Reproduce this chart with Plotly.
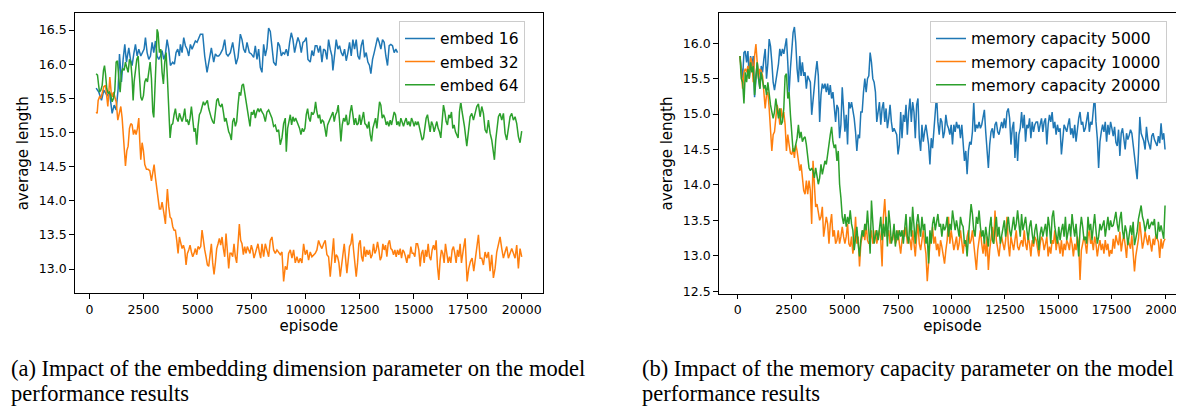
import plotly.graph_objects as go
import numpy as np

# ---------------- data: panel (a) embedding dimension ----------------
# (episode, average length) pairs
embed16 = [(308,15.65),(431,15.59),(555,15.47),(663,15.62),(817,15.54),(924,15.59),(1048,15.28),(1140,15.40),
 (1233,15.33),(1325,15.64),(1387,16.15),(1479,15.74),(1556,16.07),(1633,16.29),(1710,16.03),(1818,16.24),
 (1895,16.07),(1972,15.98),(2049,16.15),(2126,16.29),(2203,16.12),(2280,16.22),(2373,16.12),(2434,16.17),
 (2527,16.22),(2589,16.39),(2666,16.17),(2743,16.07),(2820,16.12),(2897,16.32),(2974,16.17),(3051,16.34),
 (3128,16.12),(3205,16.07),(3282,16.12),(3359,16.20),(3436,16.07),(3513,16.15),(3590,16.36),(3667,16.22),
 (3744,15.98),(3852,16.03),(3929,16.00),(4006,16.17),(4083,16.22),(4160,16.12),(4206,16.29),(4284,16.17),
 (4360,16.39),(4437,16.27),(4515,16.22),(4592,16.12),(4669,16.29),(4746,16.22),(4823,16.27),(4900,16.34),
 (4977,16.32),(5054,16.39),(5131,16.44),(5239,16.44),(5331,16.12),(5439,15.88),(5547,16.07),(5639,16.24),
 (5747,16.03),(5824,16.15),(5901,16.12),(5978,16.12),(6055,16.15),(6163,16.22),(6256,16.36),(6333,16.15),
 (6410,16.12),(6518,16.17),(6626,16.32),(6703,16.17),(6780,16.00),(6872,16.10),(6980,16.44),(7057,16.36),
 (7134,16.22),(7211,16.17),(7288,16.32),(7396,16.17),(7488,16.15),(7596,16.10),(7673,16.27),(7750,16.07),
 (7827,16.22),(7904,15.95),(7981,15.88),(8058,16.29),(8135,16.12),(8212,16.24),(8289,16.53),(8366,16.48),
 (8443,16.27),(8520,16.03),(8628,15.98),(8721,16.32),(8798,16.27),(8875,16.12),(8952,16.17),(9029,16.15),
 (9106,16.22),(9183,16.12),(9260,16.32),(9337,16.46),(9414,16.36),(9491,16.17),(9568,16.29),(9645,16.39),
 (9722,16.32),(9799,16.17),(9876,16.32),(9953,16.34),(10030,16.39),(10108,16.07),(10215,16.03),(10292,16.20),
 (10369,16.12),(10446,16.27),(10523,16.27),(10600,16.17),(10677,16.27),(10755,16.03),(10832,16.22),(10909,16.20),
 (10986,16.07),(11063,16.36),(11140,16.22),(11217,16.12),(11263,15.91),(11340,16.17),(11417,16.36),(11494,16.22),
 (11571,16.27),(11648,16.17),(11725,16.12),(11802,16.22),(11880,16.05),(11957,16.17),(12034,16.32),(12111,16.12),
 (12188,16.36),(12265,16.22),(12342,16.36),(12419,16.12),(12496,16.07),(12573,16.27),(12650,16.36),(12727,16.10),
 (12804,16.17),(12881,16.03),(12958,15.98),(13020,15.86),(13097,16.07),(13174,16.17),(13251,16.27),(13328,16.39),
 (13405,16.32),(13482,16.22),(13559,16.36),(13636,16.32),(13713,16.12),(13790,15.98),(13867,16.27),(13944,16.29),
 (14021,16.27),(14098,16.17),(14175,16.22),(14253,16.17)]

embed32 = [(308,15.30),(354,15.28),(401,15.47),(462,15.52),(524,15.50),(586,15.59),(663,15.67),(740,15.69),
 (801,15.54),(848,15.38),(894,15.59),(941,15.81),(1002,15.59),(1048,15.52),(1109,15.59),(1171,15.50),
 (1233,15.45),(1310,15.18),(1387,15.30),(1448,15.38),(1510,15.21),(1572,14.92),(1618,14.63),(1664,14.51),
 (1726,14.73),(1787,14.80),(1849,15.06),(1911,15.13),(1972,15.11),(2034,14.97),(2096,15.04),(2157,14.97),
 (2219,15.06),(2280,15.21),(2327,14.87),(2373,14.60),(2434,14.85),(2496,14.73),(2558,14.53),(2635,14.46),
 (2712,14.46),(2789,14.44),(2866,14.29),(2928,14.39),(2989,14.53),(3051,14.34),(3112,14.17),(3174,14.03),
 (3236,13.88),(3297,13.88),(3359,13.98),(3436,13.83),(3513,13.66),(3559,13.95),(3605,14.17),(3667,13.91),
 (3729,13.76),(3790,13.74),(3852,13.62),(3914,13.57),(3975,13.57),(4037,13.42),(4099,13.23),(4160,13.47),
 (4222,13.40),(4284,13.30),(4345,13.35),(4407,13.28),(4468,13.06),(4530,13.23),(4592,13.28),(4653,13.35),
 (4715,13.25),(4776,13.18),(4838,13.23),(4900,13.30),(4961,13.21),(5023,13.33),(5085,13.30),(5146,13.33),
 (5208,13.57),(5270,13.37),(5331,13.28),(5393,13.18),(5455,13.06),(5516,13.04),(5578,13.23),(5639,13.37),
 (5701,13.09),(5763,12.92),(5824,13.09),(5886,13.30),(5948,13.37),(6009,13.45),(6071,13.35),(6133,13.47),
 (6194,13.30),(6256,13.18),(6317,13.52),(6379,13.28),(6441,13.01),(6502,13.23),(6564,13.23),(6626,13.18),
 (6687,13.37),(6749,13.18),(6810,13.09),(6872,13.37),(6934,13.66),(6995,13.42),(7057,13.37),(7119,13.21),
 (7180,13.33),(7242,13.23),(7303,13.33),(7365,13.28),(7427,13.23),(7488,13.35),(7550,13.28),(7612,13.16),
 (7673,13.23),(7735,13.33),(7796,13.37),(7858,13.25),(7920,13.16),(7981,13.37),
 (8058,13.18),(8135,13.37),(8212,13.28),(8289,13.18),(8366,13.42),(8443,13.47),(8520,13.28),(8597,13.23),
 (8674,13.28),(8751,13.25),(8828,13.21),(8906,13.25),(8983,12.82),(9060,13.04),(9137,12.99),(9214,13.23),
 (9291,13.28),(9368,13.16),(9445,13.28),(9522,13.09),(9599,13.18),(9676,13.09),(9753,13.16),(9830,13.09),
 (9907,13.37),(9984,13.21),(10061,13.28),(10138,13.13),(10215,13.25),(10292,13.18),(10369,13.21),(10446,13.23),
 (10523,13.28),(10600,13.42),(10677,13.35),(10755,13.30),(10832,13.37),(10909,13.42),(10986,13.21),(11063,13.18),
 (11140,12.89),(11217,13.18),(11294,13.45),(11356,13.09),(11417,13.21),(11479,13.18),(11541,13.09),(11602,12.89),
 (11664,13.09),(11725,13.21),(11787,13.37),(11849,13.18),(11910,12.94),(11972,13.13),(12034,13.33),(12096,13.37),
 (12157,13.52),(12219,13.28),(12280,13.04),(12342,12.89),(12404,13.09),(12465,13.37),(12527,13.42),(12589,13.18),
 (12650,13.11),(12712,13.33),(12773,13.18),(12835,13.28),(12897,13.21),(12958,13.28),(13020,13.16),(13082,13.21),
 (13143,13.37),(13205,13.23),(13267,13.28),(13328,13.40),(13390,13.28),(13452,13.13),(13513,13.18),(13575,13.37),
 (13636,13.28),(13698,13.35),(13760,13.18),(13821,13.37),(13883,13.42),(13945,13.30),(14006,13.28),(14068,13.21),
 (14130,13.28),(14191,13.18),(14253,13.28),(14314,13.21),(14376,13.30),(14438,13.16),(14499,13.28),(14561,13.25),
 (14623,13.18),(14684,13.09),(14746,13.21),(14808,13.16),(14869,13.33),(14931,13.23),(14993,13.23),(15054,13.18),
 (15116,13.37),(15178,13.37),(15239,13.28),(15301,13.04),(15362,13.23),(15424,13.28),(15486,13.09),(15547,13.28),
 (15609,13.18),(15671,13.37),(15732,13.18),(15794,13.13),(15855,13.28),(15917,13.35),(15979,13.28),(16040,13.42),
 (16102,13.04),(16164,12.84),(16225,13.13),(16287,13.28),(16349,13.23),(16410,13.09),(16472,13.37),(16534,13.23),
 (16595,13.09),(16657,13.18),(16719,13.09),(16780,13.28),(16842,13.33),(16903,13.23),(16965,13.09),(17027,13.28),
 (17088,13.18),(17150,13.37),(17212,13.09),
 (17304,13.30),(17381,13.45),(17473,12.82),(17550,13.01),(17627,13.11),(17704,13.16),(17781,12.97),(17858,13.16),
 (17935,13.35),(17997,13.50),(18074,13.16),(18151,13.16),(18228,13.06),(18305,13.25),(18382,13.16),(18459,13.25),
 (18536,12.97),(18613,13.21),(18690,12.87),(18768,13.01),(18845,13.25),(18922,13.35),(18999,13.47),(19076,13.30),
 (19153,13.16),(19230,13.25),(19307,13.33),(19384,13.16),(19461,13.25),(19538,13.30),(19615,13.23),(19692,13.16),
 (19769,13.35),(19846,13.01),(19923,13.30),(20000,13.18)]

embed64 = [(308,15.86),(370,15.84),(416,15.71),(462,15.59),(524,15.62),(586,15.69),(647,15.91),(694,15.98),
 (740,15.86),(801,15.64),(863,15.57),(924,15.59),(986,15.54),(1048,15.45),(1109,15.50),(1171,15.62),
 (1233,16.03),(1294,16.05),(1356,15.79),(1418,15.59),(1479,15.88),(1541,15.93),(1602,15.91),(1664,16.03),
 (1726,15.95),(1787,15.88),(1849,16.07),(1911,16.03),(1972,15.79),(2019,15.47),(2065,15.74),(2126,15.88),
 (2188,16.07),(2250,16.12),(2311,15.74),(2373,15.52),(2434,15.47),(2496,15.54),(2558,15.74),(2619,15.79),
 (2681,15.74),(2743,15.88),(2805,16.03),(2866,15.79),(2928,15.30),(2974,15.22),(3020,15.50),(3082,16.07),
 (3128,16.51),(3174,16.46),(3236,16.17),(3297,16.22),(3359,15.88),(3420,15.71),(3482,16.03),(3544,16.17),
 (3605,15.79),(3667,15.21),(3729,14.92),(3790,15.11),(3852,15.13),(3914,15.26),(3975,15.35),(4037,15.21),
 (4099,15.16),(4160,15.28),(4222,15.21),(4284,15.16),(4345,15.23),(4407,15.35),(4468,15.16),(4530,15.18),
 (4592,15.11),(4653,15.21),(4715,15.38),(4776,15.13),(4838,15.01),(4900,15.06),(4961,14.82),(5023,15.09),
 (5085,15.26),(5146,15.30),(5208,15.40),(5270,15.45),(5331,15.40),(5393,15.45),(5455,15.47),(5516,15.35),
 (5578,15.26),(5639,15.21),(5701,15.16),(5763,15.13),(5824,15.30),(5886,15.47),(5948,15.50),(6009,15.40),
 (6071,15.38),(6133,15.42),(6194,15.30),(6256,15.16),(6317,15.21),(6379,15.09),(6441,15.01),(6502,14.97),
 (6564,14.89),(6626,15.16),(6687,15.21),(6749,15.09),(6810,15.16),(6872,15.40),(6934,15.59),(6995,15.54),
 (7057,15.69),(7119,15.71),(7180,15.59),(7242,15.45),(7303,15.30),(7365,15.16),(7427,15.09),(7488,15.30),
 (7550,15.26),(7612,15.33),(7673,15.21),(7735,15.30),(7796,15.35),(7858,15.30),(7920,15.35),(7981,15.30),
 (8058,15.26),(8135,15.16),(8212,15.30),(8289,15.33),(8366,15.26),(8443,15.21),(8520,15.09),(8597,15.11),
 (8674,15.01),(8751,15.04),(8828,14.82),(8906,14.92),(8983,15.13),(9060,15.21),(9106,14.72),(9168,15.06),
 (9229,15.16),(9291,15.26),(9352,15.11),(9414,15.23),(9476,15.16),(9537,15.21),(9599,15.16),(9661,15.11),
 (9722,15.06),(9784,14.97),(9845,15.06),(9907,15.01),(9969,15.06),(10030,15.26),(10092,15.35),(10154,15.21),
 (10215,15.16),(10277,15.30),(10339,15.26),(10400,15.30),(10462,15.45),(10523,15.30),(10585,15.21),(10647,15.26),
 (10709,15.13),(10770,15.18),(10832,15.16),(10894,15.06),(10955,14.94),(11017,15.11),(11079,15.16),(11140,15.21),
 (11202,15.26),(11263,15.30),(11325,15.16),(11387,15.26),(11448,15.30),(11510,15.40),(11572,15.16),(11633,14.87),
 (11695,15.11),(11757,15.21),(11818,15.16),(11880,15.26),(11941,15.11),(12003,15.13),(12065,15.30),(12126,15.40),
 (12188,15.26),(12250,15.11),(12311,15.21),(12373,15.11),(12434,15.13),(12496,15.26),(12558,15.11),(12619,15.21),
 (12681,15.30),(12743,15.13),(12804,15.11),(12866,15.06),(12927,15.16),(12989,14.97),(13051,14.87),(13112,15.06),
 (13174,15.16),(13236,15.21),(13297,15.06),(13359,15.26),(13421,15.45),(13482,15.40),(13544,15.21),(13606,15.26),
 (13667,15.21),(13729,15.11),(13791,15.16),(13852,15.09),(13914,15.18),(13976,15.11),(14037,15.21),(14099,15.30),
 (14160,15.26),(14222,15.11),(14284,15.16),(14345,15.09),(14407,15.21),(14469,15.13),(14530,15.09),(14592,15.16),
 (14653,15.21),(14715,15.11),(14776,15.16),(14838,15.09),(14900,15.21),(14961,15.16),(15023,15.09),(15085,15.16),
 (15146,15.11),(15208,15.16),(15270,15.06),(15331,14.97),(15393,14.89),(15455,14.92),(15516,15.06),(15578,15.21),
 (15640,15.26),(15701,15.11),(15763,15.01),(15825,15.16),(15886,15.11),(15948,15.01),(16009,15.09),(16071,15.16),
 (16133,15.06),(16194,15.01),(16256,14.92),(16318,15.16),(16379,15.40),(16441,15.30),(16503,15.16),(16564,15.11),
 (16626,15.26),(16687,15.21),(16749,15.30),(16811,15.06),(16872,15.11),(16934,15.01),(16996,14.97),(17057,14.92),
 (17119,15.30),(17181,15.45),(17242,15.30),
 (17350,15.09),(17458,14.80),(17535,14.99),(17612,15.23),(17689,15.28),(17766,15.18),(17843,15.28),(17920,15.38),
 (17997,15.42),(18074,15.23),(18151,15.38),(18228,15.28),(18305,15.04),(18382,14.99),(18459,15.18),(18536,14.99),
 (18613,14.89),(18690,14.70),(18737,14.60),(18798,14.89),(18860,15.09),(18922,15.23),(18999,15.28),(19076,15.18),
 (19153,15.28),(19230,14.99),(19307,14.89),(19384,15.09),(19461,15.23),(19538,15.28),(19615,15.18),(19692,15.23),
 (19769,15.13),(19846,14.94),(19923,14.85),(20000,15.02)]

# ---------------- data: panel (b) memory capacity ----------------
# values read at evenly spaced episodes from 100 to 20000
mem5000 = [15.82,15.64,15.50,15.87,15.89,15.73,15.89,15.50,15.82,15.68,15.82,15.24,15.45,15.73,15.54,15.36,
 15.68,15.59,15.78,15.92,15.50,15.71,16.06,15.96,15.73,15.45,15.34,15.45,15.57,15.71,15.92,15.82,15.92,15.85,
 15.96,16.07,15.73,15.31,15.64,15.96,16.15,16.23,16.01,15.64,15.45,15.82,15.54,15.73,15.54,15.59,15.36,15.54,
 15.50,15.45,14.99,15.22,15.41,15.59,15.75,15.54,14.89,15.27,15.43,15.36,15.43,15.31,15.43,15.27,15.41,15.22,
 15.31,15.08,14.89,15.13,15.08,14.66,14.85,15.38,15.03,14.75,14.99,14.57,15.17,15.08,15.17,15.08,14.94,14.75,
 14.48,14.71,14.66,15.03,15.03,15.31,15.50,15.31,15.50,15.54,15.87,15.73,15.50,15.45,15.31,14.89,15.03,15.17,
 14.85,15.08,15.17,14.89,15.08,14.80,14.94,15.13,14.89,14.75,14.80,14.75,14.71,14.43,14.57,15.03,14.66,14.99,
 14.89,15.13,14.71,15.03,
 15.22,14.89,15.17,15.03,14.66,15.13,15.22,14.66,14.48,14.85,14.61,14.75,14.85,14.71,14.57,14.29,14.66,14.52,
 14.75,15.03,15.27,14.89,14.71,14.94,14.89,14.66,14.75,14.99,14.85,14.80,14.71,14.85,14.57,14.85,14.75,14.89,
 14.80,14.85,14.66,14.85,14.52,14.34,14.48,14.15,14.48,14.61,14.57,14.75,15.17,14.75,14.85,14.80,14.89,14.80,
 14.85,14.94,15.06,14.75,14.52,14.24,14.57,14.75,14.80,14.66,14.85,14.89,14.75,14.71,14.80,14.89,14.80,14.94,
 14.80,15.03,15.08,14.94,14.57,14.80,14.89,14.38,14.75,14.34,14.71,14.80,15.03,14.80,14.99,14.61,14.85,14.80,
 14.94,14.66,14.89,14.75,14.85,14.89,14.89,14.75,14.85,14.94,14.75,14.89,14.94,14.57,14.85,14.99,14.89,15.03,
 14.80,14.89,14.71,14.85,14.75,14.80,14.43,14.71,14.85,14.80,14.75,14.85,14.94,14.71,14.80,14.66,14.85,14.61,
 14.80,14.94,15.03,14.85,14.89,14.75,14.80,14.89,15.03,14.75,14.89,14.85,15.03,15.27,14.89,14.66,14.24,14.61,
 14.75,14.85,14.75,14.89,14.61,14.85,14.71,14.89,14.80,
 14.69,14.82,14.60,14.55,14.78,14.41,14.73,14.80,14.62,14.50,14.73,14.64,14.70,14.78,14.73,14.55,14.40,14.20,
 14.08,14.45,14.96,14.73,14.68,14.62,14.50,14.82,14.64,14.55,14.50,14.69,14.73,14.64,14.58,14.55,14.69,14.59,
 14.87,14.64,14.73,14.50]

mem10000 = [15.82,15.50,15.36,15.59,15.64,15.59,15.68,15.50,15.80,15.73,15.45,15.82,15.99,15.73,15.50,15.64,
 15.61,15.54,15.36,15.08,15.27,15.31,15.08,14.75,14.48,14.71,14.75,14.94,15.13,15.03,14.85,15.08,14.94,15.03,
 14.85,14.48,14.71,14.57,14.45,14.43,14.52,14.38,14.57,14.48,14.34,14.20,14.29,14.10,13.92,13.87,14.06,13.87,
 14.06,13.92,13.45,14.34,14.01,13.69,13.73,13.64,13.50,13.55,13.69,13.27,13.41,13.55,13.45,13.17,13.45,13.59,
 13.27,13.36,13.17,13.22,13.36,13.17,13.27,13.41,13.27,13.17,13.27,13.45,13.17,13.13,13.27,13.03,13.17,13.55,
 13.17,13.27,12.85,13.17,13.27,13.36,13.22,13.45,13.22,13.17,13.22,13.36,13.17,13.22,13.36,13.17,13.27,13.36,
 13.22,12.85,13.55,13.80,13.45,13.27,13.36,13.17,13.27,13.22,13.41,13.17,13.22,13.36,13.17,13.03,13.22,13.36,
 13.27,13.41,13.17,13.27,
 13.22,13.08,13.36,13.17,12.99,13.27,13.45,13.17,13.08,13.22,13.36,13.17,13.03,12.64,12.99,13.17,13.22,13.41,
 13.17,13.27,13.08,13.17,12.99,13.22,13.13,12.99,12.89,13.08,13.22,13.55,13.17,13.36,13.22,13.08,13.17,13.27,
 13.08,13.17,13.36,13.17,13.03,13.22,13.13,13.27,13.36,13.17,13.22,13.36,13.17,12.99,12.80,13.08,13.27,13.36,
 13.17,13.03,13.22,12.99,13.27,12.80,13.08,13.22,13.41,13.17,13.64,13.22,13.08,12.99,13.17,13.27,13.17,13.08,
 13.22,13.55,13.17,12.99,13.27,13.17,13.08,13.22,13.36,13.13,13.08,13.17,13.22,13.13,13.36,13.17,13.08,13.27,
 13.17,12.99,13.22,13.13,13.27,13.22,13.08,12.99,13.17,13.27,13.22,13.08,13.17,13.27,12.99,13.13,13.03,13.22,
 13.17,13.36,13.08,13.22,13.17,13.03,13.22,12.99,13.17,13.08,13.22,13.17,13.08,13.27,13.17,12.99,13.17,13.08,
 13.27,13.17,12.66,13.08,13.17,13.27,13.17,13.03,13.27,13.36,13.17,13.22,13.08,13.27,13.17,12.99,13.13,13.22,
 13.08,13.17,13.03,13.22,13.08,13.17,12.99,13.08,13.03,
 13.24,13.10,13.29,13.20,13.15,13.34,13.06,13.20,13.29,13.15,12.97,13.24,13.15,13.10,13.29,13.06,12.78,13.00,
 13.15,13.24,13.48,13.24,13.10,13.20,13.34,13.24,13.15,13.29,13.20,13.06,13.24,13.15,13.29,13.25,13.20,12.97,
 13.24,13.10,13.20,13.24]

mem20000 = [15.82,15.50,15.45,15.15,15.59,15.45,15.64,15.50,15.73,15.59,15.68,15.27,15.54,15.73,15.50,15.36,
 15.59,15.50,15.36,15.41,15.27,15.45,15.27,15.13,15.03,14.94,15.03,15.22,15.08,14.94,15.08,14.85,14.89,15.08,
 15.54,15.57,15.22,15.31,14.99,14.66,14.48,14.48,14.57,14.66,14.85,14.66,14.75,14.61,14.66,14.68,14.57,14.43,
 14.24,14.20,14.24,14.20,14.10,14.24,14.15,14.01,14.10,14.29,14.15,14.24,14.34,14.29,14.48,14.57,14.71,14.82,
 14.61,14.52,14.57,14.34,14.48,14.01,13.82,13.55,13.45,13.59,13.41,13.55,13.45,13.64,13.45,13.36,13.08,13.27,
 13.41,13.17,12.99,13.22,13.36,13.27,13.45,13.36,13.64,13.36,13.03,13.78,13.36,13.17,13.27,13.36,13.22,13.45,
 13.55,13.22,13.45,13.27,13.55,13.13,13.64,13.45,13.17,13.27,13.45,13.13,13.36,13.22,13.36,13.27,13.36,13.17,
 13.41,13.59,13.27,13.17,
 13.55,13.27,13.69,13.36,13.17,13.45,13.59,13.41,13.27,13.55,13.36,13.45,13.17,13.27,12.89,13.36,13.17,13.45,
 13.55,13.36,13.45,13.59,13.41,13.45,13.27,13.45,13.36,13.41,13.55,13.27,13.45,13.36,13.64,13.45,13.36,13.50,
 13.41,13.27,13.55,13.45,13.41,13.17,13.22,12.99,13.27,13.45,13.73,13.59,13.36,13.27,13.55,13.45,13.64,13.41,
 13.27,13.36,13.17,13.41,13.27,13.13,13.41,13.55,13.22,13.17,13.36,13.55,13.27,13.41,13.17,13.27,13.41,13.50,
 13.27,13.41,13.55,13.36,13.27,13.41,13.55,13.36,13.45,13.64,13.41,13.27,13.59,13.36,13.45,13.55,13.36,13.22,
 13.41,13.50,13.31,13.17,13.36,13.45,13.27,13.08,13.31,13.41,13.27,13.36,13.45,13.27,13.55,13.41,13.17,13.55,
 13.64,13.41,13.31,13.17,13.41,13.22,13.36,13.45,13.27,13.55,13.22,13.36,13.45,13.27,13.59,13.41,13.27,13.45,
 13.17,12.99,13.36,13.55,13.41,13.22,13.27,13.17,13.55,13.36,13.45,13.22,13.41,13.59,13.36,13.17,13.27,13.45,
 13.36,13.45,13.50,13.27,13.41,13.55,13.36,13.50,13.41,
 13.43,13.52,13.62,13.45,13.34,13.52,13.62,13.35,13.24,13.43,13.34,13.15,13.30,13.43,13.29,13.48,13.15,13.25,
 13.34,13.52,13.62,13.71,13.55,13.48,13.34,13.43,13.52,13.38,13.45,13.48,13.43,13.52,13.30,13.24,13.48,13.34,
 13.43,13.30,13.24,13.71]

EMBED_NAMES = ["embed 16", "embed 32", "embed 64"]
MEM_NAMES = ["memory capacity 5000", "memory capacity 10000", "memory capacity 20000"]
COLORS = ["#1f77b4", "#ff7f0e", "#2ca02c"]
X_TICKS = [0, 2500, 5000, 7500, 10000, 12500, 15000, 17500, 20000]
Y_TICKS_A = [13.0, 13.5, 14.0, 14.5, 15.0, 15.5, 16.0, 16.5]
Y_TICKS_B = [12.5, 13.0, 13.5, 14.0, 14.5, 15.0, 15.5, 16.0]
CAPTION_A = ["(a) Impact of the embedding dimension parameter on the model", "performance results"]
CAPTION_B = ["(b) Impact of the memory capacity parameter on the model", "performance results"]

W, H = 1184, 407
fig = go.Figure()

for name, series, col in zip(EMBED_NAMES, [embed16, embed32, embed64], COLORS):
    xs = [p[0] for p in series]
    ys = [p[1] for p in series]
    fig.add_trace(go.Scatter(x=xs, y=ys, mode="lines", name=name,
                             line=dict(color=col, width=1.5), xaxis="x", yaxis="y",
                             legend="legend"))

for name, series, col in zip(MEM_NAMES, [mem5000, mem10000, mem20000], COLORS):
    xs = np.linspace(100, 20000, len(series))
    fig.add_trace(go.Scatter(x=xs, y=series, mode="lines", name=name,
                             line=dict(color=col, width=1.5), xaxis="x2", yaxis="y2",
                             legend="legend2"))

tickfont = dict(family="DejaVu Sans", size=12.5, color="black")
titlefont = dict(family="DejaVu Sans", size=15, color="black")
common_axis = dict(showline=True, mirror=True, linecolor="black", linewidth=1,
                   ticks="outside", ticklen=4.5, tickwidth=1, tickcolor="black",
                   showgrid=False, zeroline=False, tickfont=tickfont)

def px_x(p):
    return p / W

def px_y(p):
    return 1 - p / H

legend_style = dict(bgcolor="white", bordercolor="#cccccc", borderwidth=1,
                    font=dict(family="DejaVu Sans", size=15.5, color="black"))

fig.update_layout(
    width=W, height=H, margin=dict(l=0, r=0, t=0, b=0),
    paper_bgcolor="white", plot_bgcolor="white",
    xaxis=dict(domain=[px_x(66.7), px_x(535)], range=[-685, 20985], anchor="y",
               tickvals=X_TICKS, ticktext=[str(v) for v in X_TICKS],
               title=dict(text="episode", font=titlefont, standoff=3), **common_axis),
    yaxis=dict(domain=[px_y(289), px_y(5.3)], range=[12.643, 16.746], anchor="x",
               tickvals=Y_TICKS_A, ticktext=[f"{v:.1f}" for v in Y_TICKS_A],
               title=dict(text="average length", font=titlefont, standoff=6), **common_axis),
    xaxis2=dict(domain=[px_x(710.7), px_x(1178.3)], range=[-895, 20995], anchor="y2",
                tickvals=X_TICKS, ticktext=[str(v) for v in X_TICKS],
                title=dict(text="episode", font=titlefont, standoff=3), **common_axis),
    yaxis2=dict(domain=[px_y(289.3), px_y(5.3)], range=[12.464, 16.424], anchor="x2",
                tickvals=Y_TICKS_B, ticktext=[f"{v:.1f}" for v in Y_TICKS_B],
                title=dict(text="average length", font=titlefont, standoff=6), **common_axis),
    legend=dict(x=px_x(391), xanchor="left", y=px_y(13), yanchor="top", **legend_style),
    legend2=dict(x=px_x(922), xanchor="left", y=px_y(13), yanchor="top", **legend_style),
)

# subfigure captions
cap_font = dict(family="Liberation Serif, Times New Roman, serif", size=22.5, color="black")
LINE_Y = [364.5, 390.5]
for caption, x0 in ((CAPTION_A, 1), (CAPTION_B, 632)):
    for line, yp in zip(caption, LINE_Y):
        fig.add_annotation(text=line, x=px_x(x0), y=px_y(yp), xref="paper", yref="paper",
                           xanchor="left", yanchor="middle", showarrow=False, font=cap_font)

fig.write_html("out.html")
